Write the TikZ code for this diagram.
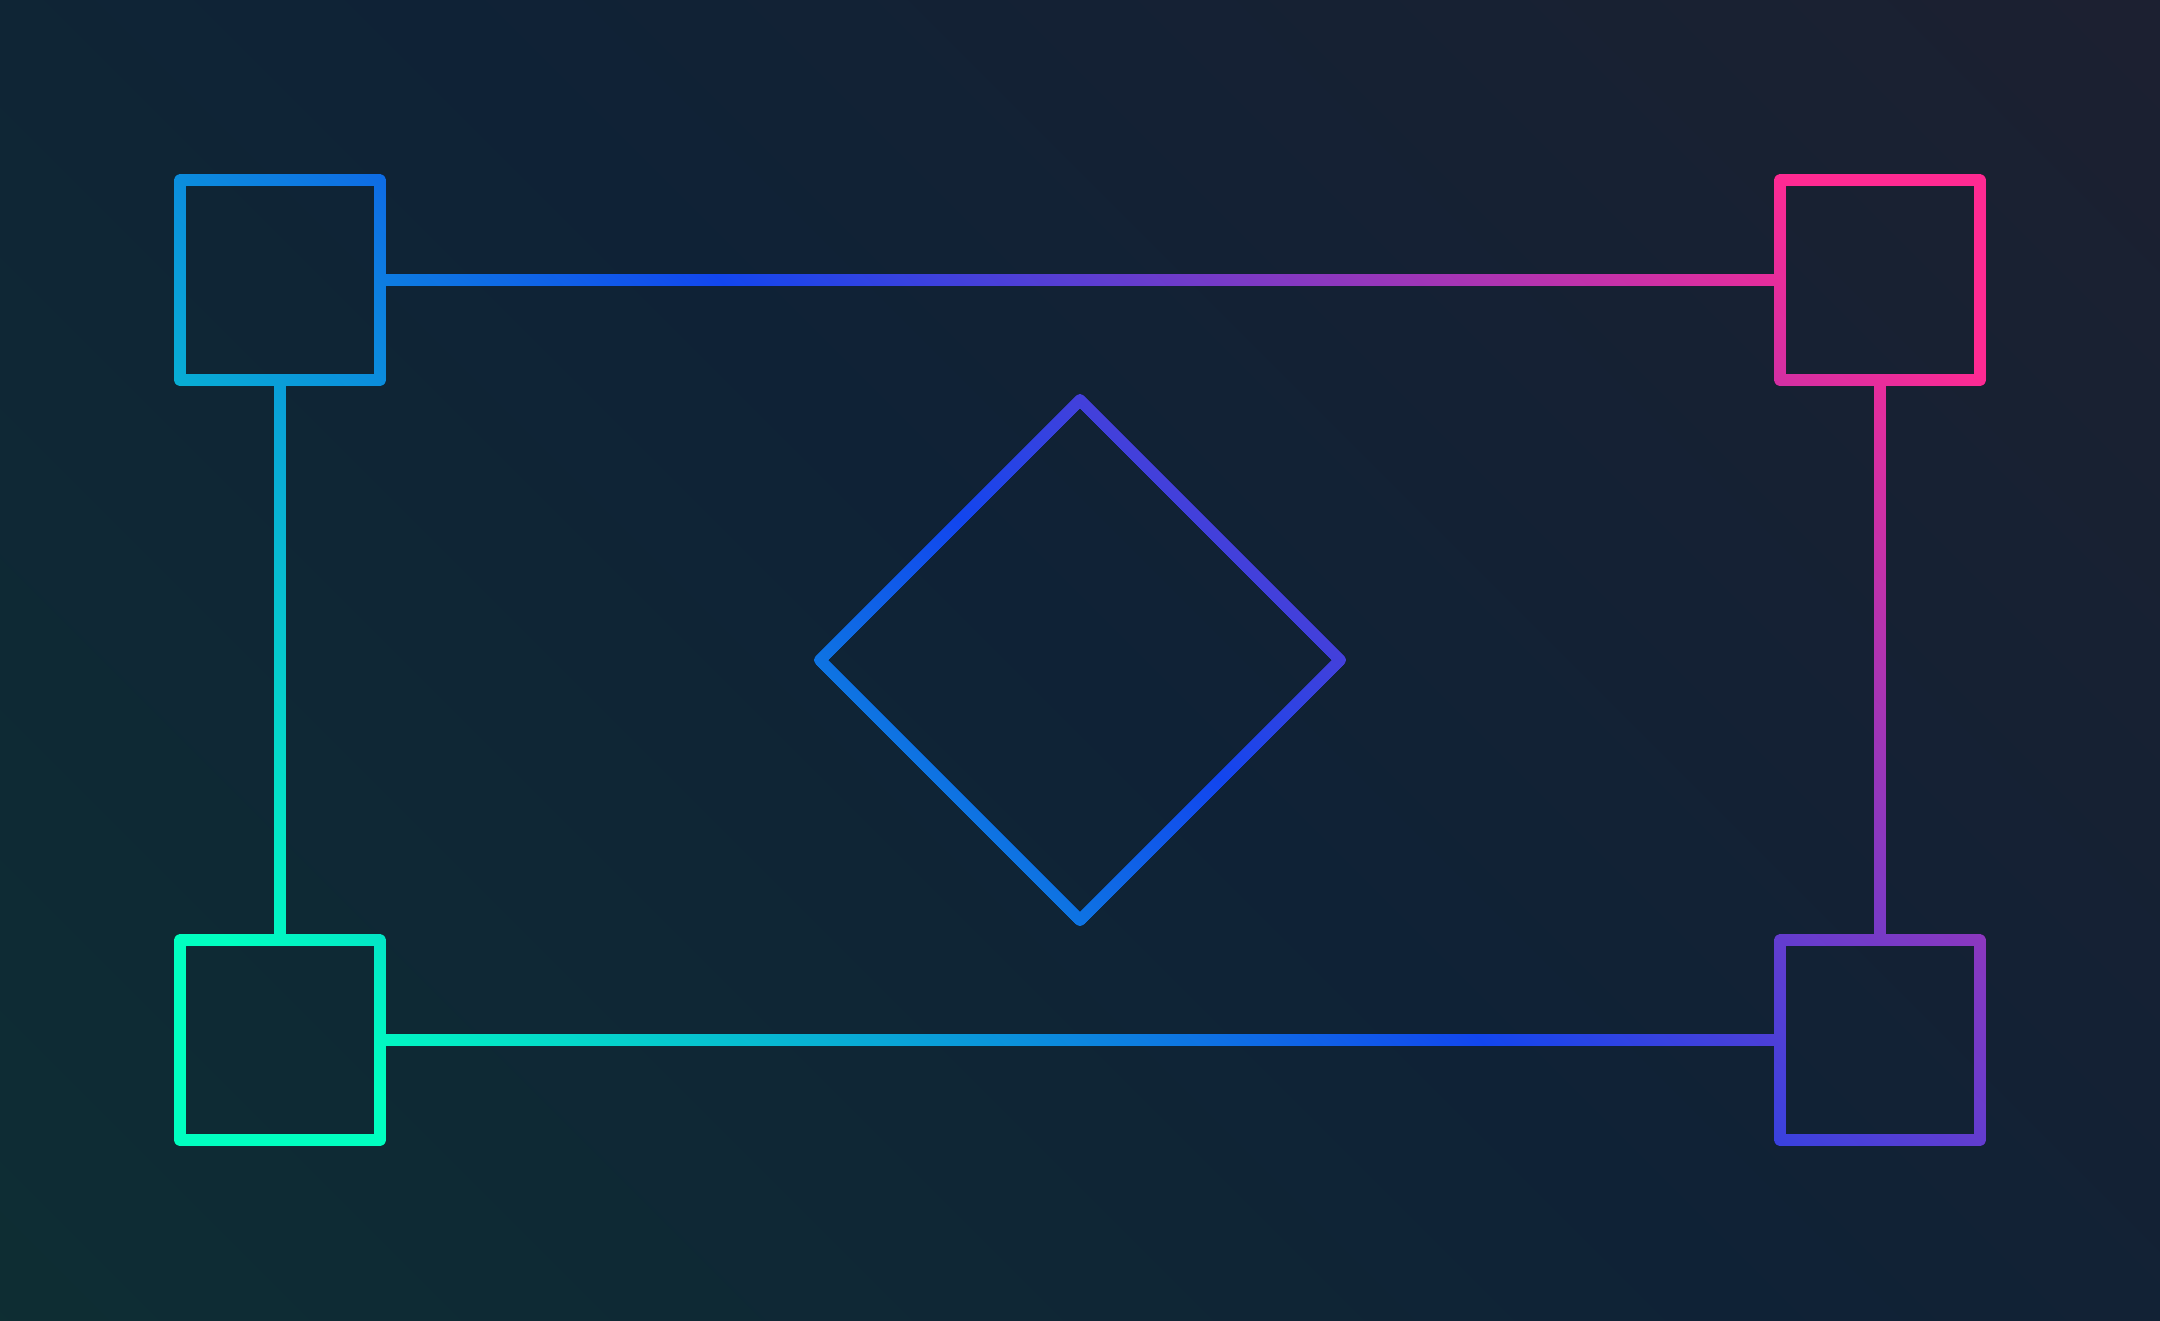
\documentclass[tikz,border=0pt]{standalone}
\usepackage{tikz}
\usetikzlibrary{fadings,shapes.geometric}

\definecolor{wiregreen}{HTML}{00FFC0}
\definecolor{wireblue}{HTML}{1246EE}
\definecolor{wirepink}{HTML}{FF2A92}
\definecolor{bgteal}{HTML}{0E2F33}
\definecolor{bgnavy}{HTML}{0F2236}
\definecolor{bgslate}{HTML}{1E2030}

\pgfdeclarehorizontalshading{wireglow}{100bp}{color(0bp)=(wiregreen); color(33.2bp)=(wiregreen); color(50.3bp)=(wireblue); color(67.7bp)=(wirepink); color(100bp)=(wirepink)}
\pgfdeclarehorizontalshading{backdrop}{100bp}{color(0bp)=(bgteal); color(21bp)=(bgteal); color(50bp)=(bgnavy); color(79bp)=(bgslate); color(100bp)=(bgslate)}

\tikzset{
	box/.style={draw=white, rectangle, minimum size=2cm, inner sep=0pt, outer sep=0pt},
	gem/.style={draw=white, diamond, aspect=1, minimum size=5.2cm, inner sep=0pt, outer sep=0pt}
}

\begin{document}
\begin{tikzpicture}[x=0.1mm, y=-0.1mm]
	\begin{tikzfadingfrompicture}[name=wires, x=0.1mm, y=-0.1mm, line width=1.2mm, line join=round]
		\path (0,0) rectangle (2160,1320);
		\node (tl) [box] at (280,280) {};
		\node (tr) [box] at (1880,280) {};
		\node (bl) [box] at (280,1040) {};
		\node (br) [box] at (1880,1040) {};
		\node (hub) [gem] at (1080,660) {};

		\draw [white] (tl.east) -- (tr.west);
		\draw [white] (bl.east) -- (br.west);
		\draw [white] (tl.south) -- (bl.north);
		\draw [white] (tr.south) -- (br.north);
	\end{tikzfadingfrompicture}
	\useasboundingbox (0,0) rectangle (2160,1320);
	\clip (0,0) rectangle (2160,1320);
	\fill [shading=backdrop, shading angle=45] (-120,-540) rectangle (2280,1860);
	\fill [shading=wireglow, shading angle=45, path fading=wires, fit fading=false, fading transform={shift={(1080,660)}}] (-120,-540) rectangle (2280,1860);
\end{tikzpicture}
\end{document}
